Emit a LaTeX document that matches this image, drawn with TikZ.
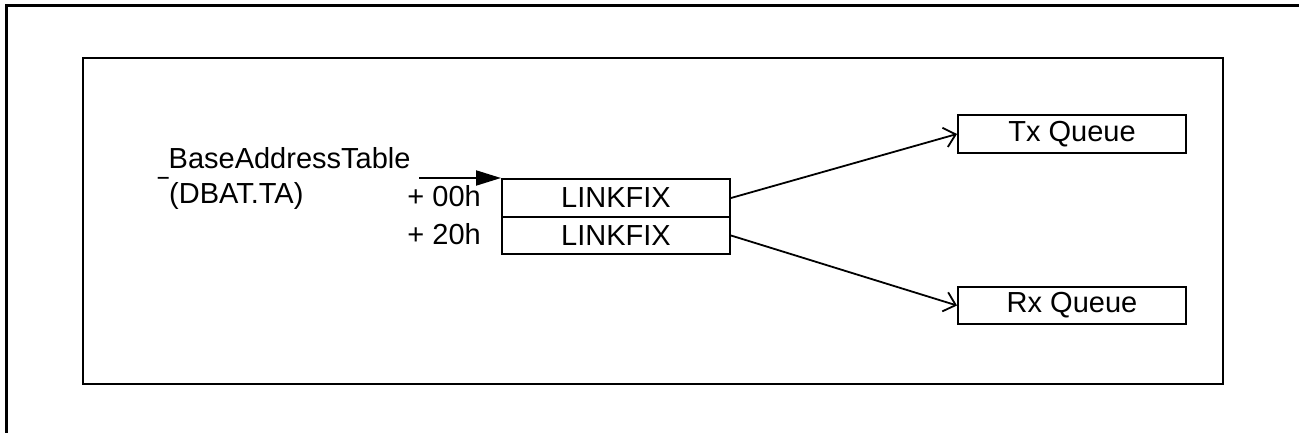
\documentclass[tikz,border=0pt]{standalone}
\usepackage{fontspec}
\setmainfont{Liberation Sans}
\usetikzlibrary{arrows.meta}
\begin{document}
\begin{tikzpicture}[x=1pt,y=-1pt, font=\fontsize{29}{34}\selectfont,
  box/.style={draw, line width=2pt, minimum width=228pt, inner sep=0pt, anchor=north west},
  link/.style={line width=1.8pt, -{Straight Barb[length=11pt,width=20pt,line width=1.8pt]}},
  lbl/.style={inner sep=0pt}]
\useasboundingbox (0,0) rectangle (1299,433);
\draw[line width=3pt] (6,433) -- (6,6) -- (1299,6);
\draw[line width=2pt] (83,58) rectangle (1223,384);
\node[box, minimum height=38pt] (l1) at (501,178) {LINKFIX};
\node[box, minimum height=37pt] (l2) at (501,216) {LINKFIX};
\node[box, minimum height=38pt] (tx) at (957,114) {Tx Queue};
\node[box, minimum height=37pt] (rx) at (957,286) {Rx Queue};
\node[lbl, anchor=base west] (bat) at (158,169) {\raisebox{-5pt}{\scalebox{0.65}[1]{\_}}BaseAddressTable};
\node[lbl, anchor=base west] (dbat) at (169,204) {(DBAT.TA)};
\node[lbl, anchor=base east] (o0) at (481,207) {+ 00h};
\node[lbl, anchor=base east] (o2) at (481,244) {+ 20h};
\coordinate (ent) at (419,178);
\draw[line width=2pt, -{Triangle[length=25pt,width=15pt]}] (ent) -- (l1.north west);
\draw[link] (l1.east) -- (tx.west);
\draw[link] (l2.east) -- (rx.west);
\end{tikzpicture}
\end{document}
